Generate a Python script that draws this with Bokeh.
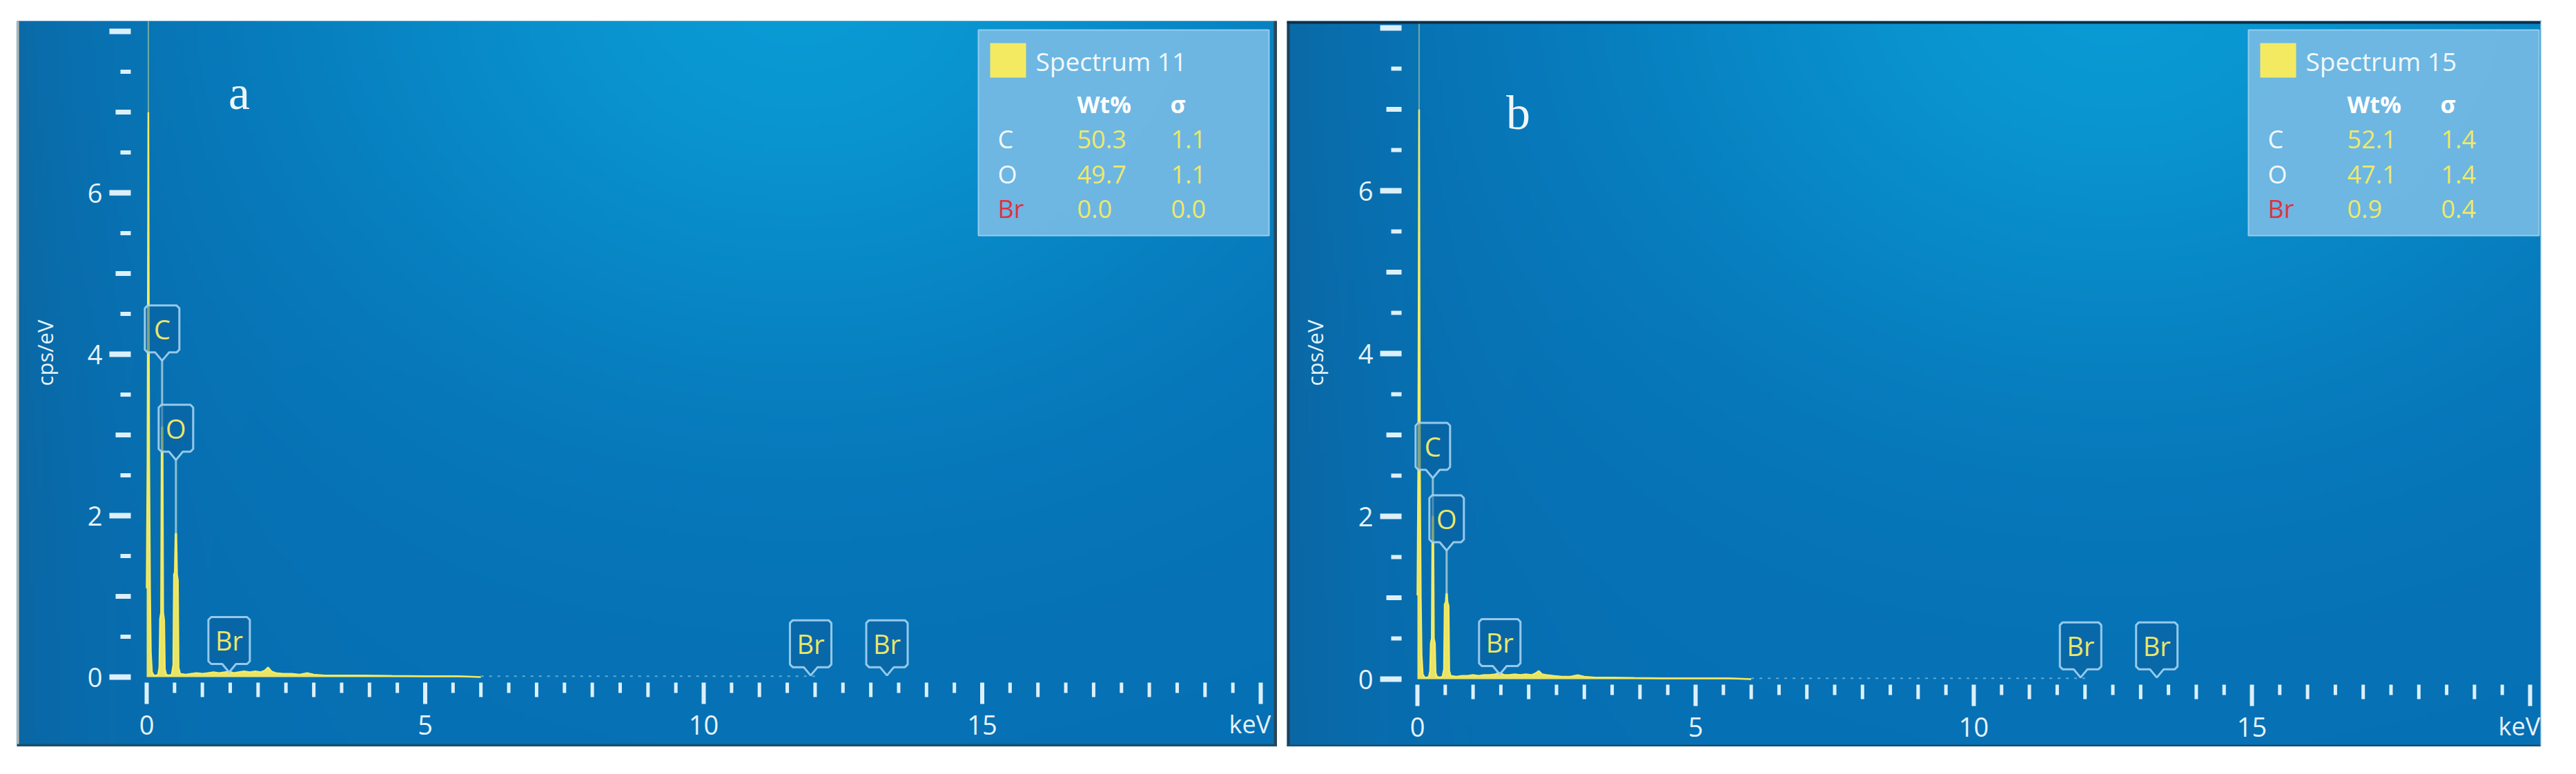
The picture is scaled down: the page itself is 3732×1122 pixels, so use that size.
import numpy as np
from bokeh.plotting import figure
from bokeh.layouts import row, column
from bokeh.models import Spacer, Range1d
from bokeh.core.properties import value
from bokeh.embed import file_html
from bokeh.resources import INLINE

# ---------------- data ----------------
x_major_ticks = [0, 5, 10, 15, 20]
x_tick_values = [0, 5, 10, 15]
x_tick_labels = ["0", "5", "10", "15"]
y_tick_values = [0, 2, 4, 6]
y_tick_labels = ["0", "2", "4", "6"]
x_axis_label = "keV"
y_axis_label = "cps/eV"

# Spectrum 11 (panel a)
kev_a = [0.000, 0.015, 0.030, 0.045, 0.060, 0.075, 0.095, 0.130, 0.170, 0.205,
         0.228, 0.240, 0.258, 0.270, 0.284, 0.296, 0.314, 0.326, 0.350, 0.400,
         0.450, 0.478, 0.490, 0.505, 0.518, 0.532, 0.545, 0.560, 0.572, 0.600,
         0.700, 0.800, 0.900, 1.000, 1.100, 1.200, 1.300, 1.400, 1.480, 1.560,
         1.650, 1.750, 1.850, 1.950, 2.050, 2.120, 2.180, 2.240, 2.320, 2.450,
         2.600, 2.750, 2.880, 3.000, 3.200, 3.500, 3.900, 4.400, 5.000, 5.600, 6.000]
cps_a = [1.10, 2.70, 7.00, 2.70, 1.10, 0.30, 0.06, 0.02, 0.02, 0.03,
         0.12, 0.72, 0.80, 3.10, 3.10, 0.80, 0.70, 0.10, 0.03, 0.02,
         0.03, 0.15, 1.27, 1.30, 1.78, 1.78, 1.27, 1.20, 0.12, 0.04,
         0.03, 0.04, 0.05, 0.04, 0.05, 0.06, 0.05, 0.06, 0.07, 0.05,
         0.06, 0.07, 0.06, 0.07, 0.06, 0.08, 0.12, 0.07, 0.05, 0.04,
         0.04, 0.03, 0.05, 0.03, 0.02, 0.02, 0.02, 0.015, 0.01, 0.01, 0.0]
tail_kev_a = [6.0, 7.0, 8.0, 9.0, 10.0, 11.0, 12.0]
tail_cps_a = [0.01, 0.01, 0.01, 0.01, 0.01, 0.01, 0.01]

# Spectrum 15 (panel b)
kev_b = [0.000, 0.015, 0.030, 0.045, 0.060, 0.075, 0.095, 0.130, 0.170, 0.205,
         0.228, 0.240, 0.258, 0.270, 0.284, 0.296, 0.314, 0.326, 0.350, 0.400,
         0.450, 0.478, 0.490, 0.510, 0.518, 0.532, 0.540, 0.560, 0.572, 0.600,
         0.700, 0.800, 0.900, 1.000, 1.100, 1.200, 1.300, 1.400, 1.480, 1.560,
         1.650, 1.750, 1.850, 1.950, 2.050, 2.120, 2.180, 2.240, 2.320, 2.450,
         2.600, 2.750, 2.880, 3.000, 3.200, 3.500, 3.900, 4.400, 5.000, 5.600, 6.000]
cps_b = [1.03, 2.60, 7.00, 2.60, 1.03, 0.30, 0.06, 0.02, 0.02, 0.03,
         0.10, 0.44, 0.50, 2.00, 2.00, 0.50, 0.44, 0.08, 0.03, 0.02,
         0.03, 0.12, 0.92, 0.95, 1.05, 1.05, 0.95, 0.90, 0.10, 0.04,
         0.03, 0.04, 0.04, 0.05, 0.04, 0.05, 0.05, 0.06, 0.08, 0.05,
         0.05, 0.06, 0.05, 0.06, 0.05, 0.07, 0.10, 0.06, 0.05, 0.04,
         0.03, 0.03, 0.05, 0.03, 0.02, 0.02, 0.015, 0.01, 0.01, 0.01, 0.0]
tail_kev_b = [6.0, 7.0, 8.0, 9.0, 10.0, 11.0, 12.0]
tail_cps_b = [0.01, 0.01, 0.01, 0.01, 0.01, 0.01, 0.01]

# element markers
elem_names = ["C", "O", "Br", "Br", "Br"]
elem_kev = [0.277, 0.525, 1.48, 11.92, 13.29]
elem_tip_a = [3.92, 2.69, 0.06, 0.02, 0.02]
elem_peak_a = [3.10, 1.78, 0.06, 0.02, 0.02]
elem_tip_b = [2.47, 1.58, 0.06, 0.02, 0.02]
elem_peak_b = [2.00, 1.05, 0.06, 0.02, 0.02]

# quantification tables
table_elems = ["C", "O", "Br"]
title_a = "Spectrum 11"
wt_a = ["50.3", "49.7", "0.0"]
sig_a = ["1.1", "1.1", "0.0"]
title_b = "Spectrum 15"
wt_b = ["52.1", "47.1", "0.9"]
sig_b = ["1.4", "1.4", "0.4"]

# ---------------- styling ----------------
YEL = "#f4ea62"
TICK = "#dcf0fa"
TXT = "#e6f3fa"
FONT = value("Open Sans")


def make_panel(W, H, x0px, ppx, y0px, ppy, kev, cps, tkev, tcps, etip, epeak,
               title, wt, sig, letter, letter_pos, borders, light_u):
    xs0 = -x0px / ppx
    xs1 = (W - x0px) / ppx
    ye1 = y0px / ppy
    ye0 = -(H - y0px) / ppy

    def X(px):
        return xs0 + px / ppx

    def Y(py):
        return ye1 - py / ppy

    def DX(d):
        return d / ppx

    def DY(d):
        return d / ppy

    p = figure(width=W, height=H, x_range=Range1d(xs0, xs1), y_range=Range1d(ye0, ye1),
               output_backend="svg", toolbar_location=None, min_border=0,
               x_axis_location=None, y_axis_location=None,
               outline_line_color=None, background_fill_color="#0872b6",
               border_fill_color="#0872b6")
    p.grid.visible = False

    # background gradient (styling only)
    nx, ny = 300, 170
    u = (np.arange(nx) + 0.5) / nx
    v = (np.arange(ny) + 0.5) / ny
    U, V = np.meshgrid(u, v)
    f = np.exp(-((U - light_u) / 0.40) ** 2 - ((V + 0.05) / 0.55) ** 2)
    d = np.exp(-U / 0.09)
    base = np.array([6, 112, 180], dtype=float)
    light = np.array([10, 154, 212], dtype=float)
    dark = np.array([12, 100, 160], dtype=float)
    col = base + (light - base) * f[..., None] + (dark - base) * (0.8 * d)[..., None]
    img = np.empty((ny, nx), dtype=np.uint32)
    view = img.view(dtype=np.uint8).reshape((ny, nx, 4))
    view[..., :3] = np.clip(col, 0, 255)[::-1].astype(np.uint8)
    view[..., 3] = 255
    p.image_rgba(image=[img], x=X(0), y=Y(H), dw=W / ppx, dh=H / ppy)

    # legend / quant table
    L, R, T, B = 1393, 1814, 13, 311
    p.quad(left=X(L), right=X(R), top=Y(T), bottom=Y(B), fill_color="#76bbe4",
           fill_alpha=0.92, line_color="#92cdf0", line_width=2)
    p.quad(left=X(1410), right=X(1462), top=Y(32), bottom=Y(82), fill_color=YEL,
           line_color=None)
    p.text(x=[X(1476)], y=[Y(58)], text=[title], text_font=FONT, text_font_size="37px",
           text_color="#f2f8fc", text_align="left", text_baseline="middle")
    p.text(x=[X(1536), X(1671)], y=[Y(120), Y(120)], text=["Wt%", "σ"], text_font=FONT,
           text_font_size="34px", text_font_style="bold", text_color="#ffffff",
           text_align="left", text_baseline="middle")
    rows_y = [Y(171), Y(222), Y(272)]
    p.text(x=[X(1421)] * 3, y=rows_y, text=table_elems, text_font=FONT,
           text_font_size="36px", text_color=["#f2f8fc", "#f2f8fc", "#e0323e"],
           text_align="left", text_baseline="middle")
    p.text(x=[X(1536)] * 3, y=rows_y, text=wt, text_font=FONT, text_font_size="36px",
           text_color="#efe86a", text_align="left", text_baseline="middle")
    p.text(x=[X(1672)] * 3, y=rows_y, text=sig, text_font=FONT, text_font_size="36px",
           text_color="#efe86a", text_align="left", text_baseline="middle")

    # spectrum
    p.line(tkev, tcps, line_color="#a8dcef", line_width=2, line_alpha=0.55,
           line_dash="4 8")
    p.varea(x=kev, y1=0, y2=cps, fill_color=YEL, fill_alpha=0.95)
    p.line(kev, cps, line_color=YEL, line_width=2.5)
    imax = int(np.argmax(cps))
    p.segment(x0=[kev[imax]], y0=[cps[imax]], x1=[kev[imax]], y1=[ye1],
              line_color="#c8d994", line_alpha=0.55, line_width=2)

    # element markers
    p.segment(x0=elem_kev, y0=epeak, x1=elem_kev, y1=etip, line_color="#a9cdd6",
              line_width=3, line_alpha=0.85)
    xs_list, ys_list = [], []
    for e, k, t in zip(elem_names, elem_kev, etip):
        h = 30 if len(e) > 1 else 25
        pts = [(0, 0), (10, 12), (h - 4, 12), (h, 16), (h, 76), (h - 4, 80),
               (-h + 4, 80), (-h, 76), (-h, 16), (-h + 4, 12), (-10, 12)]
        xs_list.append([k + DX(a) for a, b in pts])
        ys_list.append([t + DY(b) for a, b in pts])
    p.patches(xs_list, ys_list, fill_color="#0a5e9c", fill_alpha=0.5,
              line_color="#a6d4f2", line_width=3, line_alpha=0.9)
    p.text(x=elem_kev, y=[t + DY(46) for t in etip], text=elem_names, text_font=FONT,
           text_font_size="38px", text_color="#ece66a", text_align="center",
           text_baseline="middle")

    # x ticks
    xt = [i * 0.5 for i in range(41)]
    groups = {"long": [], "mid": [], "short": []}
    for t in xt:
        if t % 5 == 0:
            groups["long"].append(t)
        elif t % 1 == 0:
            groups["mid"].append(t)
        else:
            groups["short"].append(t)
    for key, ln, lw in (("long", 31, 6), ("mid", 21, 5), ("short", 15, 5)):
        ts = groups[key]
        p.segment(x0=ts, y0=[-DY(8)] * len(ts), x1=ts, y1=[-DY(8 + ln)] * len(ts),
                  line_color=TICK, line_width=lw)
    # y ticks
    yt = [i * 0.5 for i in range(17)]
    groups = {"long": [], "mid": [], "short": []}
    for t in yt:
        if t % 2 == 0:
            groups["long"].append(t)
        elif t % 1 == 0:
            groups["mid"].append(t)
        else:
            groups["short"].append(t)
    for key, ln, lw in (("long", 31, 8), ("mid", 22, 7), ("short", 15, 6)):
        ts = groups[key]
        p.segment(x0=[-DX(23)] * len(ts), y0=ts, x1=[-DX(23 + ln)] * len(ts), y1=ts,
                  line_color=TICK, line_width=lw)

    # tick labels and axis titles
    p.text(x=x_tick_values, y=[-DY(69)] * len(x_tick_values), text=x_tick_labels,
           text_font=FONT, text_font_size="38px", text_color=TXT, text_align="center",
           text_baseline="middle")
    p.text(x=[-DX(64)] * len(y_tick_values), y=y_tick_values, text=y_tick_labels,
           text_font=FONT, text_font_size="38px", text_color=TXT, text_align="right",
           text_baseline="middle")
    p.text(x=[x_major_ticks[-1] - DX(46)], y=[-DY(68)], text=[x_axis_label],
           text_font=FONT, text_font_size="36px", text_color=TXT, text_align="left",
           text_baseline="middle")
    p.text(x=[X(40)], y=[Y(481)], text=[y_axis_label], angle=np.pi / 2,
           text_font=FONT, text_font_size="31px", text_color=TXT, text_align="center",
           text_baseline="middle")
    p.text(x=[X(letter_pos[0])], y=[Y(letter_pos[1])], text=[letter],
           text_font=value("Liberation Serif"), text_font_size="70px",
           text_color="#eef6fa", text_align="center", text_baseline="alphabetic")

    # window edges
    for side, th, c in borders:
        if side == "left":
            p.quad(left=X(0), right=X(th), top=Y(0), bottom=Y(H), fill_color=c, line_color=None)
        elif side == "right":
            p.quad(left=X(W - th), right=X(W), top=Y(0), bottom=Y(H), fill_color=c, line_color=None)
        elif side == "top":
            p.quad(left=X(0), right=X(W), top=Y(0), bottom=Y(th), fill_color=c, line_color=None)
        elif side == "bottom":
            p.quad(left=X(0), right=X(W), top=Y(H - th), bottom=Y(H), fill_color=c, line_color=None)
    return p


pa = make_panel(1826, 1052, 188, 80.7, 951, 117.0, kev_a, cps_a, tail_kev_a, tail_cps_a,
                elem_tip_a, elem_peak_a, title_a, wt_a, sig_a, "a", (322, 104),
                [("left", 3, "#c4b8a6"), ("bottom", 4, "#17506e"), ("right", 5, "#2b4656")],
                0.62)
pb = make_panel(1818, 1052, 189, 80.6, 954, 118.0, kev_b, cps_b, tail_kev_b, tail_cps_b,
                elem_tip_b, elem_peak_b, title_b, wt_b, sig_b, "b", (335, 133),
                [("left", 4, "#1f3f55"), ("top", 4, "#0d3049"), ("bottom", 3, "#17506e"),
                 ("right", 2, "#b8d8ee")],
                0.66)

layout = column(Spacer(height=30), row(Spacer(width=24), pa, Spacer(width=14), pb))
open("out.html", "w").write(file_html(layout, INLINE))
